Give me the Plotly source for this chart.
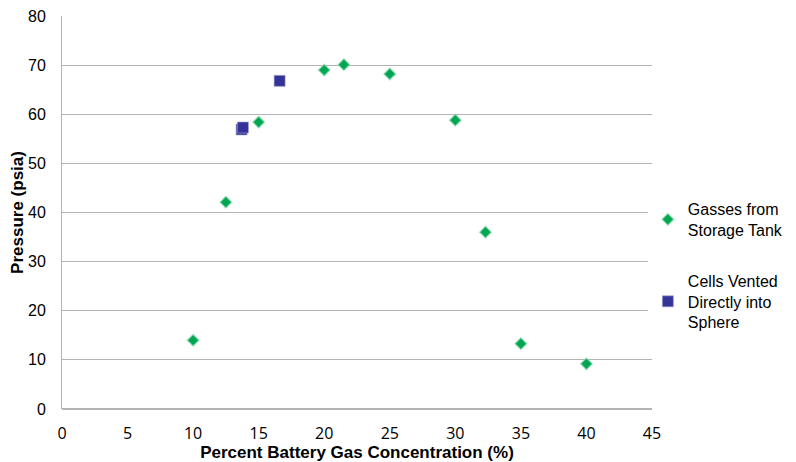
import plotly.graph_objects as go

gas_x = [10, 12.5, 15, 20, 21.5, 25, 30, 32.3, 35, 40]
gas_y = [14.0, 42.1, 58.4, 69.0, 70.1, 68.2, 58.8, 36.0, 13.3, 9.2]

cell_x = [13.7, 13.8, 16.6]
cell_y = [56.9, 57.3, 66.8]

x_ticks = [0, 5, 10, 15, 20, 25, 30, 35, 40, 45]
y_ticks = [0, 10, 20, 30, 40, 50, 60, 70, 80]

fig = go.Figure()
fig.add_trace(go.Scatter(
    x=gas_x, y=gas_y, mode="markers", name="Gasses from<br>Storage Tank",
    legendgroup="g1",
    marker=dict(symbol="diamond", size=9, color="#00A651",
                line=dict(color="rgba(150,220,180,0.6)", width=1.5)),
))
fig.add_trace(go.Scatter(
    x=cell_x, y=cell_y, mode="markers", name="Cells Vented<br>Directly into<br>Sphere",
    legendgroup="g2",
    marker=dict(symbol="square", size=11, color="#333399",
                line=dict(color="rgba(160,160,210,0.6)", width=1)),
))

fig.update_layout(
    width=788, height=454,
    margin=dict(l=54, r=144, t=8, b=53),
    paper_bgcolor="white", plot_bgcolor="white",
    font=dict(family="Liberation Sans, Arial", size=16, color="black"),
    showlegend=True,
    legend=dict(x=0.993, y=0.552, xanchor="left", yanchor="top",
                font=dict(size=16), tracegroupgap=27, itemwidth=30),
    xaxis=dict(range=[0, 45], tickvals=x_ticks, showgrid=False,
               showline=False, zeroline=False, ticks="", automargin=False,
               ticklabelstandoff=13, ticklabeloverflow="allow",
               tickfont=dict(family="Liberation Sans Narrow, Open Sans", size=16),
               title=dict(text="<b>Percent Battery Gas Concentration (%)</b>",
                          font=dict(size=17), standoff=0)),
    yaxis=dict(range=[0, 80], tickvals=y_ticks, showgrid=True,
               gridcolor="#B3B3B3", gridwidth=1, automargin=False,
               showline=True, linecolor="#B3B3B3", zeroline=True,
               zerolinecolor="#B3B3B3", ticks="", ticklen=0,
               ticklabelstandoff=12, ticklabeloverflow="allow",
               tickfont=dict(size=16),
               title=dict(text="<b>Pressure (psia)</b>", font=dict(size=17),
                          standoff=1)),
)

fig.write_html("out.html")
